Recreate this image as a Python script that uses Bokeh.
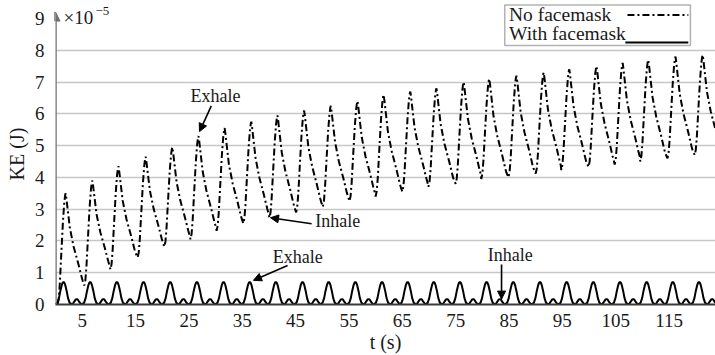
from bokeh.plotting import figure
from bokeh.models import FixedTicker, Label, Arrow, NormalHead, BoxAnnotation, Range1d
from bokeh.embed import file_html
from bokeh.resources import INLINE

# ---------------- data ----------------
x_ticks = [5, 15, 25, 35, 45, 55, 65, 75, 85, 95, 105, 115]
y_ticks = [0, 1, 2, 3, 4, 5, 6, 7, 8, 9]
grid_levels = [1, 2, 3, 4, 5, 6, 7, 8]

# No facemask: peak times / peak KE / trough KE (before first peak ... after last peak), units 1e-5 J
nomask_peak_t = [1.9, 6.9, 11.8, 16.9, 21.9, 26.8, 31.7, 36.7, 41.6, 46.6, 51.6, 56.6, 61.5,
                 66.5, 71.4, 76.5, 81.3, 86.4, 91.5, 96.3, 101.4, 106.3, 111.1, 116.2, 121.3]
nomask_peak_ke = [3.5, 3.9, 4.35, 4.65, 4.95, 5.3, 5.55, 5.75, 5.95, 6.1, 6.25, 6.4, 6.6,
                  6.7, 6.8, 7.0, 7.1, 7.2, 7.3, 7.4, 7.5, 7.6, 7.7, 7.8, 7.85]
nomask_trough_ke = [0.0, 0.6, 1.1, 1.48, 1.82, 2.05, 2.32, 2.55, 2.73, 2.9, 3.07, 3.25, 3.4,
                    3.55, 3.7, 3.8, 3.95, 4.0, 4.12, 4.23, 4.33, 4.4, 4.5, 4.6, 4.7, 4.8]
# shape of one breath (offset from peak in s, fraction of the swing)
nomask_rise_off = [-1.5, -1.3, -1.1, -0.8, -0.5, -0.25, -0.1, 0.0]
nomask_rise_frac = [0.0, 0.05, 0.18, 0.47, 0.75, 0.92, 0.98, 1.0]
nomask_decay_off = [0.15, 0.35, 0.8, 1.5, 2.4, 3.0, 3.2]
nomask_decay_frac = [0.94, 0.84, 0.62, 0.42, 0.23, 0.09, 0.05]

# With facemask: peak times and one breath profile (offset from peak in s, KE)
mask_peak_t = [1.5, 6.5, 11.5, 16.5, 21.5, 26.5, 31.5, 36.4, 41.3, 46.3, 51.2, 56.2, 61.2,
               66.0, 70.9, 75.8, 80.8, 85.8, 90.8, 95.8, 100.8, 105.8, 110.8, 115.7, 120.6]
mask_cycle_off = [-1.5, -1.15, -0.85, -0.6, -0.35, -0.15, 0.0, 0.15, 0.35, 0.6, 0.85, 1.15,
                  1.5, 1.75, 2.05, 2.3, 2.5, 2.7, 2.95, 3.25]
mask_cycle_ke = [0.01, 0.05, 0.2, 0.42, 0.6, 0.69, 0.71, 0.69, 0.6, 0.42, 0.2, 0.05,
                 0.01, 0.02, 0.1, 0.16, 0.17, 0.15, 0.08, 0.02]

# ---------------- build the polylines ----------------
t_nm, ke_nm = [], []
for k, tp in enumerate(nomask_peak_t):
    P = nomask_peak_ke[k]
    Lp = nomask_trough_ke[k]
    Ln = nomask_trough_ke[k + 1]
    for off, f in zip(nomask_rise_off, nomask_rise_frac):
        t_nm.append(tp + off)
        ke_nm.append(Lp + f * (P - Lp))
    for off, f in zip(nomask_decay_off, nomask_decay_frac):
        t_nm.append(tp + off)
        ke_nm.append(Ln + f * (P - Ln))

t_m, ke_m = [], []
for tp in mask_peak_t:
    for off, v in zip(mask_cycle_off, mask_cycle_ke):
        t_m.append(tp + off)
        ke_m.append(v)

FONT = "Liberation Serif"
AXFONT = "'Liberation Serif', 'Times New Roman', serif"
INK = "#1a1a1a"

p = figure(width=715, height=355, output_backend="svg", toolbar_location=None,
           x_range=Range1d(0, 123.7), y_range=Range1d(0, 9.47),
           min_border_left=55, min_border_right=0, min_border_top=3, min_border_bottom=48)
p.outline_line_color = None
p.background_fill_color = "white"
p.border_fill_color = "white"

p.xgrid.visible = False
p.ygrid.ticker = FixedTicker(ticks=grid_levels)
p.ygrid.grid_line_color = "#c6c6c6"
p.ygrid.grid_line_width = 1.4

# axes
p.xaxis.ticker = FixedTicker(ticks=x_ticks)
p.yaxis.ticker = FixedTicker(ticks=y_ticks)
p.axis.major_tick_line_color = None
p.axis.minor_tick_line_color = None
p.axis.major_label_text_font = AXFONT
p.axis.major_label_text_font_size = "19px"
p.axis.major_label_text_color = INK
p.axis.axis_label_text_font = AXFONT
p.axis.axis_label_text_font_size = "20px"
p.axis.axis_label_text_font_style = "normal"
p.axis.axis_label_text_color = INK
p.xaxis.axis_label = "t (s)"
p.yaxis.axis_label = "KE (J)"
p.xaxis.major_label_standoff = 3
p.xaxis.axis_label_standoff = 1
p.yaxis.major_label_standoff = 5
p.yaxis.axis_label_standoff = 4
p.xaxis.axis_line_color = "#3a3a3a"
p.xaxis.axis_line_width = 2
p.yaxis.axis_line_color = None

# y axis with arrow head
p.add_layout(Arrow(end=NormalHead(size=9, fill_color="#707070", line_color="#707070"),
                   x_start=0, y_start=0, x_end=0, y_end=9.2,
                   line_color="#707070", line_width=2.5))

# exponent
p.add_layout(Label(x=1.5, y=9.02, text="×10", text_font=FONT, text_font_size="19px",
                   text_baseline="middle", text_align="left", text_color=INK))
p.add_layout(Label(x=7.5, y=9.22, text="−5", text_font=FONT, text_font_size="13px",
                   text_baseline="middle", text_align="left", text_color=INK))

# curves
p.line(t_m, ke_m, line_color="black", line_width=2)
p.line(t_nm, ke_nm, line_color="black", line_width=2, line_dash="7 3 2 3")

# annotations
def note(text, tx, ty, x0, y0, x1, y1):
    p.add_layout(Label(x=tx, y=ty, text=text, text_font=FONT, text_font_size="18px",
                       text_baseline="middle", text_align="left", text_color=INK))
    p.add_layout(Arrow(end=NormalHead(size=8, fill_color="black", line_color="black"),
                       x_start=x0, y_start=y0, x_end=x1, y_end=y1,
                       line_color="black", line_width=1.6))

note("Exhale", 25.3, 6.56, 29.2, 6.25, 27.0, 5.44)
note("Inhale", 48.7, 2.63, 48.0, 2.54, 40.3, 2.73)
note("Exhale", 40.7, 1.48, 43.5, 1.23, 37.1, 0.76)
note("Inhale", 81.0, 1.57, 83.6, 1.26, 83.6, 0.17)

# legend (text left, sample right)
p.add_layout(BoxAnnotation(left=84.2, right=119.0, bottom=8.15, top=9.42, level="underlay",
                           fill_color="white", fill_alpha=1.0, line_color="black", line_width=1.5))
p.add_layout(Label(x=85.0, y=9.11, text="No facemask", text_font=FONT, text_font_size="19.5px",
                   text_baseline="middle", text_align="left", text_color=INK))
p.add_layout(Label(x=85.0, y=8.52, text="With facemask", text_font=FONT, text_font_size="19.5px",
                   text_baseline="middle", text_align="left", text_color=INK))
p.line([107.2, 118.6], [9.11, 9.11], line_color="black", line_width=2, line_dash="7 3 2 3")
p.line([106.8, 118.6], [8.24, 8.24], line_color="black", line_width=2)

open("out.html", "w").write(file_html(p, INLINE))
